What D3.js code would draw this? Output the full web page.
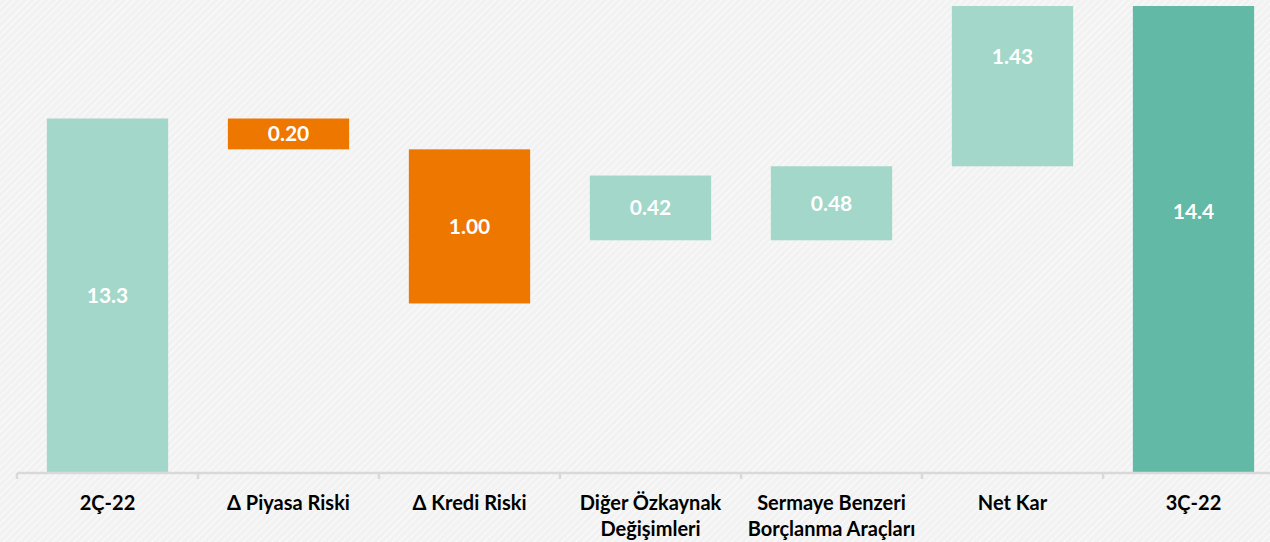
<!DOCTYPE html>
<html>
<head>
<meta charset="utf-8">
<script src="https://cdn.jsdelivr.net/npm/d3@7"></script>
<style>
  body { margin: 0; background: #f4f4f4; }
  svg { display: block; }
</style>
</head>
<body>
<div id="chart"></div>
<script>
// categories and values
const categories = ["2Ç-22", "Δ Piyasa Riski", "Δ Kredi Riski", "Diğer Özkaynak|Değişimleri",
                    "Sermaye Benzeri|Borçlanma Araçları", "Net Kar", "3Ç-22"];
const barStart = [11.0, 13.3, 13.1, 12.51, 12.51, 12.99, 11.0];
const barEnd   = [13.3, 13.1, 12.1, 12.93, 12.99, 14.42, 14.4];
const labels   = ["13.3", "0.20", "1.00", "0.42", "0.48", "1.43", "14.4"];
const kinds    = ["total", "down", "down", "up", "up", "up", "end"];
const yDomain  = [11, 14.03];

const W = 1270, H = 542;
const margin = {top: 6, left: 17, bottom: 69};
const bandW = 181;

const colors = {total: "#a2d7c9", up: "#a2d7c9", down: "#ee7700", end: "#62b9a6"};

const svg = d3.select("#chart").append("svg")
    .attr("width", W).attr("height", H);

// hatched background
const defs = svg.append("defs");
const pat = defs.append("pattern")
    .attr("id", "hatch").attr("width", 5).attr("height", 5)
    .attr("patternUnits", "userSpaceOnUse")
    .attr("patternTransform", "rotate(45)");
pat.append("rect").attr("width", 5).attr("height", 5).attr("fill", "#f2f2f2");
pat.append("line").attr("x1", 0).attr("y1", 0).attr("x2", 0).attr("y2", 5)
    .attr("stroke", "#fbfbfb").attr("stroke-width", 2);
svg.append("rect").attr("width", W).attr("height", H).attr("fill", "url(#hatch)");

const baseY = H - margin.bottom;

const x = d3.scaleBand()
    .domain(categories)
    .range([margin.left, margin.left + bandW * categories.length])
    .paddingInner(0.33).paddingOuter(0.165);

const y = d3.scaleLinear().domain(yDomain).range([baseY, margin.top]);

defs.append("clipPath").attr("id", "plot")
  .append("rect").attr("x", 0).attr("y", margin.top).attr("width", W).attr("height", baseY - margin.top);

const data = categories.map((c, i) => ({c, s: barStart[i], e: barEnd[i], lab: labels[i], k: kinds[i]}));

const g = svg.append("g").attr("clip-path", "url(#plot)");
g.selectAll("rect.bar")
  .data(data)
  .enter()
  .append("rect")
    .attr("class", "bar")
    .attr("x", d => x(d.c))
    .attr("width", x.bandwidth())
    .attr("y", d => y(Math.max(d.s, d.e)))
    .attr("height", d => Math.abs(y(d.s) - y(d.e)))
    .attr("fill", d => colors[d.k]);

// value labels, centred on the full bar
svg.selectAll("text.val")
  .data(data)
  .enter()
  .append("text")
    .attr("class", "val")
    .attr("x", d => x(d.c) + x.bandwidth() / 2)
    .attr("y", d => (y(d.s) + y(d.e)) / 2)
    .attr("dy", "0.36em")
    .attr("text-anchor", "middle")
    .attr("fill", "#fff")
    .style("font-family", "Lato, sans-serif")
    .style("font-weight", "bold")
    .style("font-size", "21px")
    .text(d => d.lab);

// x axis
const axis = svg.append("g").attr("transform", "translate(0," + baseY + ")");
axis.append("line")
    .attr("x1", margin.left).attr("x2", W)
    .attr("stroke", "#d9d9d9").attr("stroke-width", 2.5);
const edges = categories.map(c => x(c) - x.step() * x.paddingInner() / 2);
axis.selectAll("line.tick")
  .data(edges)
  .enter()
  .append("line")
    .attr("class", "tick")
    .attr("x1", d => d).attr("x2", d => d)
    .attr("y1", 0).attr("y2", 6)
    .attr("stroke", "#d9d9d9").attr("stroke-width", 2.5);

const tl = axis.selectAll("text.cat")
  .data(categories)
  .enter()
  .append("text")
    .attr("class", "cat")
    .attr("x", d => x(d) + x.bandwidth() / 2)
    .attr("y", 37)
    .attr("text-anchor", "middle")
    .attr("fill", "#000")
    .style("font-family", "Lato, sans-serif")
    .style("font-weight", "bold")
    .style("font-size", "20px");
tl.each(function(d) {
  const lines = d.split("|");
  const t = d3.select(this);
  lines.forEach((ln, i) => {
    t.append("tspan").attr("x", t.attr("x")).attr("dy", i ? 26 : 0).text(ln);
  });
});
</script>
</body>
</html>
